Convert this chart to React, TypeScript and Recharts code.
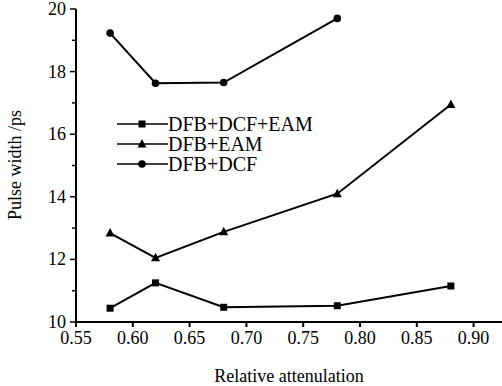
import { LineChart, Line, XAxis, YAxis } from "recharts";

const attenuation = [0.58, 0.62, 0.68, 0.78, 0.88];
const dfbDcfEam = [10.44, 11.25, 10.47, 10.52, 11.15];
const dfbEam = [12.84, 12.05, 12.88, 14.1, 16.95];
const dfbDcf: (number | null)[] = [19.23, 17.63, 17.65, 19.7, null];

const xTicks = [0.55, 0.6, 0.65, 0.7, 0.75, 0.8, 0.85, 0.9];
const yTicks = [10, 11, 12, 13, 14, 15, 16, 17, 18, 19, 20];

const series = [
  { key: "dcfEam", name: "DFB+DCF+EAM", shape: "square" },
  { key: "eam", name: "DFB+EAM", shape: "triangle" },
  { key: "dcf", name: "DFB+DCF", shape: "circle" },
];

const data = attenuation.map((x, i) => ({
  x,
  dcfEam: dfbDcfEam[i],
  eam: dfbEam[i],
  dcf: dfbDcf[i],
}));

const FONT = "Liberation Serif, serif";

function Marker({ shape, cx, cy }: { shape: string; cx: number; cy: number }) {
  if (cx == null || cy == null) return null;
  if (shape === "square") return <rect x={cx - 3.5} y={cy - 3.5} width={7} height={7} fill="#000" />;
  if (shape === "triangle")
    return <polygon points={`${cx},${cy - 5} ${cx - 4.5},${cy + 3.5} ${cx + 4.5},${cy + 3.5}`} fill="#000" />;
  return <circle cx={cx} cy={cy} r={3.8} fill="#000" />;
}

// y ticks every 1 (minor), labels only on even values
function YTick(props: any) {
  const { x, y, payload } = props;
  const axisX = x + 10;
  const major = payload.value % 2 === 0;
  return (
    <g>
      <line x1={axisX} x2={axisX - (major ? 6 : 4)} y1={y} y2={y} stroke="#000" strokeWidth={1.5} />
      {major && (
        <text x={x} y={y} textAnchor="end" dominantBaseline="central" fontSize={18} fontFamily={FONT} fill="#000">
          {payload.value}
        </text>
      )}
    </g>
  );
}

function LegendBox() {
  return (
    <div
      style={{
        position: "absolute",
        left: 117,
        top: 114,
        fontFamily: FONT,
        fontSize: 20,
        color: "#000",
      }}
    >
      {series.map((s) => (
        <div key={s.key} style={{ display: "flex", alignItems: "center", height: 20 }}>
          <svg width={51} height={14} style={{ display: "block" }}>
            <line x1={0} x2={51} y1={7} y2={7} stroke="#000" strokeWidth={1.6} />
            <Marker shape={s.shape} cx={25} cy={7} />
          </svg>
          <span style={{ whiteSpace: "nowrap", lineHeight: "20px" }}>{s.name}</span>
        </div>
      ))}
    </div>
  );
}

export default function App() {
  return (
    <div style={{ position: "absolute", left: 0, top: 0, width: 502, height: 386, background: "#fff" }}>
      <LineChart width={502} height={386} data={data} margin={{ top: 9, right: 0, bottom: 0, left: 0 }}>
        <XAxis
          dataKey="x"
          type="number"
          domain={[0.55, 0.925]}
          ticks={xTicks}
          tickFormatter={(v: number) => v.toFixed(2)}
          height={64}
          stroke="#000"
          strokeWidth={2}
          tickSize={5}
          tickMargin={4}
          tick={{ fill: "#000", fontSize: 18, fontFamily: FONT }}
          allowDataOverflow
          label={{
            value: "Relative attenulation",
            position: "insideBottom",
            offset: 4,
            fill: "#000",
            fontSize: 18,
            fontFamily: FONT,
          }}
        />
        <YAxis
          type="number"
          domain={[10, 20]}
          ticks={yTicks}
          interval={0}
          width={76}
          stroke="#000"
          strokeWidth={2}
          tickLine={false}
          tickSize={5}
          tickMargin={5}
          tick={<YTick />}
          label={{
            content: () => (
              <text
                x={15}
                y={165}
                transform="rotate(-90 15 165)"
                textAnchor="middle"
                dominantBaseline="central"
                fontSize={18}
                fontFamily={FONT}
                fill="#000"
              >
                Pulse width /ps
              </text>
            ),
          }}
        />
        {series.map((s) => (
          <Line
            key={s.key}
            dataKey={s.key}
            name={s.name}
            stroke="#000"
            strokeWidth={2}
            connectNulls={false}
            isAnimationActive={false}
            dot={(p: any) => <Marker key={`${s.key}-${p.index}`} shape={s.shape} cx={p.cx} cy={p.cy} />}
            activeDot={false}
          />
        ))}
      </LineChart>
      <LegendBox />
    </div>
  );
}
